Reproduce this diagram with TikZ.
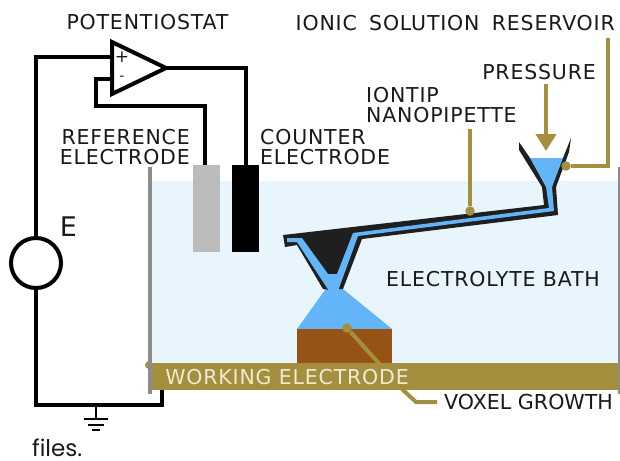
\documentclass[tikz,border=0pt]{standalone}
\usepackage{fontspec}
\setmainfont[LetterSpace=4]{DejaVu Sans}
\newfontfamily\voxfont{DejaVu Sans}
\newfontfamily\filesfont{Poppins}
\usepackage{tikz}
\usetikzlibrary{arrows.meta,positioning,calc}
\definecolor{bathblue}{HTML}{E8F5FC}
\definecolor{dropblue}{HTML}{63B5F8}
\definecolor{goldline}{HTML}{A38F3E}
\definecolor{voxelbrown}{HTML}{955413}
\definecolor{tipblack}{HTML}{1F1F1F}
\definecolor{wallgray}{HTML}{8C8C8C}
\definecolor{refgray}{HTML}{BBBBBB}
\definecolor{creamtxt}{HTML}{F0EAD2}

\begin{document}
\begin{tikzpicture}[
  x=1pt,y=-1pt,
  every node/.style={font=\fontsize{20.5}{20.5}\selectfont,inner sep=0pt,text=black!90},
  lbl/.style={align=left},
  block/.style={rectangle,minimum width=#1,minimum height=87pt},
  wire/.style={line width=4pt,line join=miter},
  lead/.style={line width=4pt,draw=goldline},
  dot/.style={circle,fill=goldline,minimum size=9.5pt}]
 \useasboundingbox (0,0) rectangle (620,460);

 % bath and electrodes
 \node[fill=bathblue,minimum width=466pt,minimum height=182pt] (bath) at (385,272) {};
 \node[fill=goldline,minimum width=468pt,minimum height=27pt] (we) at (386,376.5) {};
 \node[dot,minimum size=8pt] (wedot) at (149,365) {};
 \fill[wallgray] (148,167) rectangle (152,394);
 \fill[wallgray] (618,167) rectangle (620,394);
 \node[block=27pt,fill=refgray] (ref) at (206.5,208.5) {};
 \node[block=27pt,fill=black] (ctr) at (245.5,208.5) {};

 % voxel and droplet
 \fill[dropblue] (325,290) -- (343,289) -- (392,329) -- (297,329) -- cycle;
 \node[fill=voxelbrown,minimum width=95pt,minimum height=34pt] (voxel) at (344.5,346) {};

 % pipette
 \fill[tipblack] (519,142) -- (530,158) -- (563,158) -- (571,138) -- (569,152) -- (556,187) -- (558,215)
   -- (362,239) -- (343,289) -- (338,289) -- (329,290) -- (323,289) -- (297,245) -- (285,247)
   -- (283,235) -- (544,205) -- (542,187) -- (519,150) -- cycle;
 \fill[dropblue] (530,158) -- (563,158) -- (552,187) -- (554,211) -- (358,236) -- (338,291)
   -- (329,291) -- (297,242) -- (287,242) -- (287,238) -- (302,238) -- (328,274) -- (337,274)
   -- (353,233) -- (549,208) -- (546,187) -- cycle;

 % circuit
 \coordinate (amptop) at (112,42);
 \coordinate (ampbot) at (112,94);
 \coordinate (ampout) at (166,68);
 \coordinate (ampplus) at (112,57);
 \coordinate (ampminus) at (112,79);
 \coordinate (fbleft) at (96,106);
 \coordinate (gndj) at (96,405);
 \coordinate (wetap) at (162,390);
 \coordinate (reftop) at (205,165);
 \coordinate (ctrtop) at (246,165);
 \node[circle,draw,line width=4pt,minimum size=50pt] (src) at (36,263) {};
 \draw[wire] (amptop) -- (ampout) -- (ampbot) -- cycle;
 \draw[wire] (ampplus) -| (src.north);
 \draw[wire] (src.south) |- (gndj) -| (wetap);
 \draw[wire] (ampminus) -| (fbleft) -| (reftop);
 \draw[wire] (ampout) -| (ctrtop);
 \draw[line width=2pt] (gndj) -- ++(0,14);
 \foreach \w/\y in {12/419,8/425,4/430}
   \draw[line width=2pt] (96-\w,\y) -- (96+\w,\y);
 \node[font=\fontsize{17}{17}\selectfont] (plus) at (122,57) {+};
 \node[font=\fontsize{14}{14}\selectfont] (minus) at (122,78) {-};

 % leads
 \node[dot] (resdot) at (566,166) {};
 \node[dot] (tipdot) at (470,211) {};
 \node[dot] (voxdot) at (347,328) {};
 \coordinate (restop) at (608,38);
 \coordinate (rescnr) at (608,166);
 \coordinate (tiptop) at (470,129);
 \coordinate (pressa) at (546,84);
 \coordinate (pressb) at (546,151);
 \coordinate (voxa) at (403,390);
 \coordinate (voxb) at (416,402);
 \coordinate (voxc) at (437,402);
 \draw[lead] (restop) -- (rescnr) -- (resdot);
 \draw[lead] (tiptop) -- (tipdot);
 \draw[lead] (voxdot) -- (voxa) -- (voxb) -- (voxc);
 \draw[lead,-{Triangle[length=17pt,width=20pt]},goldline] (pressa) -- (pressb);

 % labels
 \node[lbl] (pot) at (147.5,22) {POTENTIOSTAT};
 \node[lbl,align=right,anchor=east] (reflbl) at (190,147) {REFERENCE\\ELECTRODE};
 \node[lbl,anchor=west] (ctrlbl) at (260,147) {COUNTER\\ELECTRODE};
 \node[lbl,anchor=east] (reslbl) at (615,23) {IONIC\hspace{5pt} SOLUTION\hspace{5pt} RESERVOIR};
 \node[lbl,anchor=east] (prlbl) at (596,72) {PRESSURE};
 \node[lbl,anchor=west] (tiplbl) at (366,105) {IONTIP\\NANOPIPETTE};
 \node[lbl] (bathlbl) at (493,279) {ELECTROLYTE BATH};
 \node[lbl,text=creamtxt] (welbl) at (287,377) {WORKING ELECTRODE};
 \node[lbl,anchor=west,font=\voxfont\fontsize{20.6}{20.6}\selectfont] (voxlbl) at (444,402) {VOXEL GROWTH};
 \node[font=\voxfont\fontsize{27}{27}\selectfont] (elbl) at (68.5,227) {E};
 \node[font=\filesfont\fontsize{23}{23}\selectfont,anchor=base west] (files) at (32,456) {files.};
\end{tikzpicture}
\end{document}
